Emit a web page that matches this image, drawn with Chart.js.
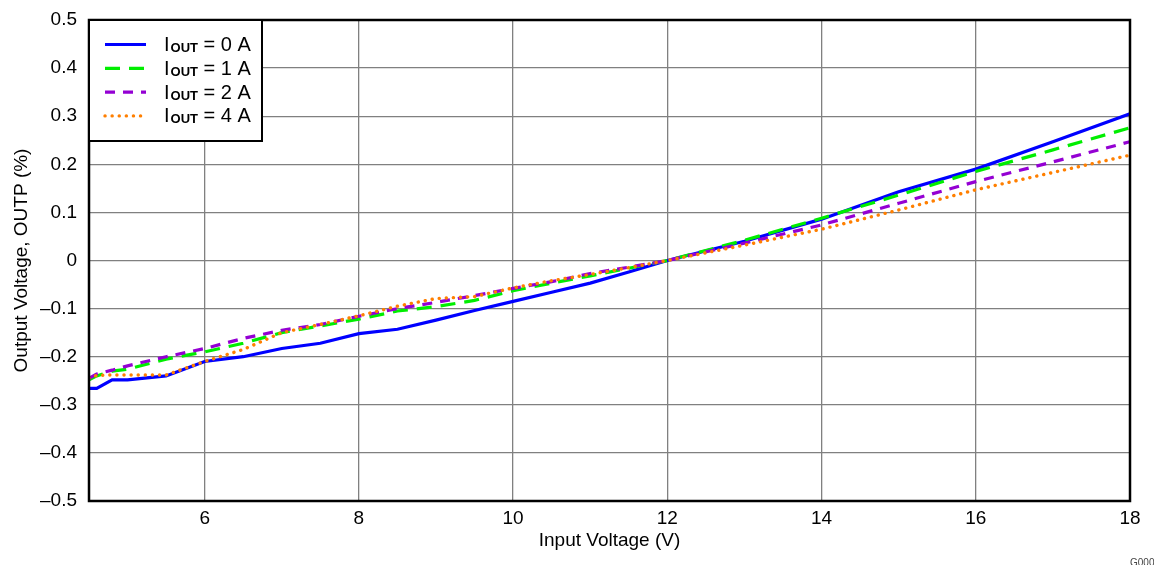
<!DOCTYPE html>
<html>
<head>
<meta charset="utf-8">
<script src="https://cdn.jsdelivr.net/npm/chart.js@4.4.1/dist/chart.umd.min.js"></script>
<style>
  html, body { margin: 0; padding: 0; background: #fff; overflow: hidden; }
  canvas { display: block; }
</style>
</head>
<body>
<canvas id="chart" width="1154" height="565"></canvas>
<script>
// Input voltage (V) sample points, shared by all curves
const inputVoltage = [4.5, 4.6, 4.8, 5, 5.5, 6, 6.5, 7, 7.5, 8, 8.5, 9, 9.5, 10, 10.5, 11, 11.5, 12, 13, 14, 15, 16, 17, 18];

// Output voltage deviation (%) per load current
const iout0A = [-0.266, -0.266, -0.248, -0.248, -0.240, -0.210, -0.200, -0.183, -0.172, -0.152, -0.143, -0.124, -0.104, -0.085, -0.066, -0.047, -0.024, 0, 0.040, 0.086, 0.143, 0.190, 0.247, 0.305];
const iout1A = [-0.248, -0.240, -0.230, -0.226, -0.205, -0.190, -0.172, -0.150, -0.136, -0.122, -0.105, -0.096, -0.083, -0.063, -0.047, -0.032, -0.016, 0, 0.042, 0.088, 0.136, 0.185, 0.230, 0.276];
const iout2A = [-0.245, -0.236, -0.228, -0.219, -0.200, -0.183, -0.162, -0.145, -0.133, -0.116, -0.100, -0.087, -0.073, -0.058, -0.044, -0.027, -0.014, 0, 0.036, 0.074, 0.119, 0.164, 0.205, 0.247];
const iout4A = [-0.245, -0.239, -0.238, -0.238, -0.238, -0.210, -0.185, -0.150, -0.133, -0.115, -0.095, -0.079, -0.075, -0.057, -0.042, -0.029, -0.015, 0, 0.032, 0.065, 0.105, 0.147, 0.183, 0.219];

const seriesCurrents = ["0 A", "1 A", "2 A", "4 A"];

const xTicks = [6, 8, 10, 12, 14, 16, 18];
const yTicks = [-0.5, -0.4, -0.3, -0.2, -0.1, 0, 0.1, 0.2, 0.3, 0.4, 0.5];
const yTickLabels = ["\u20130.5", "\u20130.4", "\u20130.3", "\u20130.2", "\u20130.1", "0", "0.1", "0.2", "0.3", "0.4", "0.5"];

const FONT = "'Liberation Sans', Arial, sans-serif";
const font = { family: FONT, size: 19 };

function points(ys) {
    return inputVoltage.map((x, i) => ({ x: x, y: ys[i] }));
}

const styles = [
    { color: "#0000ff", dash: [], cap: "butt", width: 3.2, order: 4 },
    { color: "#00ee00", dash: [15, 9], cap: "butt", width: 3.2, order: 3 },
    { color: "#9400d3", dash: [10, 8], cap: "butt", width: 3.2, order: 2 },
    { color: "#ff7f00", dash: [0.1, 7], cap: "round", width: 3.4, order: 1 }
];
const seriesValues = [iout0A, iout1A, iout2A, iout4A];

// frame round the plot, the boxed legend, the figure id
const framePlugin = {
    id: "frame",
    afterDraw(chart) {
        const c = chart.ctx;
        const a = chart.chartArea;
        c.save();
        c.strokeStyle = "#000";
        c.lineWidth = 2.5;
        c.strokeRect(a.left, a.top, a.right - a.left, a.bottom - a.top);

        // legend
        const lx = a.left, ly = a.top, lw = 173, lh = 121;
        c.fillStyle = "#fff";
        c.fillRect(lx, ly, lw, lh);
        c.lineWidth = 2;
        c.strokeRect(lx, ly, lw, lh);
        chart.data.datasets.forEach((ds, i) => {
            const base = ly + 31 + i * 23.8;
            const yl = base - 6.5;
            c.beginPath();
            c.strokeStyle = ds.borderColor;
            c.lineWidth = ds.borderWidth;
            c.lineCap = ds.borderCapStyle;
            c.setLineDash(ds.borderDash);
            c.moveTo(105, yl);
            c.lineTo(146, yl);
            c.stroke();
            c.setLineDash([]);
            c.lineCap = "butt";

            c.fillStyle = "#000";
            c.textBaseline = "alphabetic";
            c.textAlign = "left";
            let x = 164;
            c.font = "20px " + FONT;
            c.fillText("I", x, base);
            x += c.measureText("I").width + 1;
            c.font = "bold 13px " + FONT;
            c.fillText("OUT", x, base + 1);
            x += c.measureText("OUT").width;
            c.font = "20px " + FONT;
            c.fillText(" = " + seriesCurrents[i], x, base);
        });

        c.font = "10px " + FONT;
        c.fillStyle = "#444";
        c.fillText("G000", 1130, 566);
        c.restore();
    }
};

const ctx = document.getElementById("chart").getContext("2d");
new Chart(ctx, {
    type: "line",
    data: {
        datasets: seriesValues.map((ys, i) => ({
            label: "IOUT = " + seriesCurrents[i],
            data: points(ys),
            borderColor: styles[i].color,
            backgroundColor: styles[i].color,
            borderWidth: styles[i].width,
            borderDash: styles[i].dash,
            borderCapStyle: styles[i].cap,
            order: styles[i].order,
            pointRadius: 0,
            tension: 0,
            fill: false
        }))
    },
    options: {
        responsive: false,
        animation: false,
        devicePixelRatio: 1,
        layout: { padding: { top: 20, right: 24, left: 0, bottom: 0 } },
        plugins: { legend: { display: false }, tooltip: { enabled: false } },
        scales: {
            x: {
                type: "linear",
                min: 4.5,
                max: 18,
                afterBuildTicks: s => { s.ticks = xTicks.map(v => ({ value: v })); },
                afterFit: s => { s.height = 64; s.paddingLeft = 0; s.paddingRight = 0; },
                grid: { color: "#808080", lineWidth: 1.3, drawTicks: false },
                border: { display: false },
                ticks: { font: font, color: "#000", padding: 6, maxRotation: 0, callback: v => String(v) },
                title: { display: true, text: "Input Voltage (V)", font: font, color: "#000", padding: { top: 0, bottom: 13 } }
            },
            y: {
                type: "linear",
                min: -0.5,
                max: 0.5,
                afterBuildTicks: s => { s.ticks = yTicks.map(v => ({ value: v })); },
                afterFit: s => { s.width = 89; s.paddingTop = 0; s.paddingBottom = 0; },
                grid: { color: "#808080", lineWidth: 1.3, drawTicks: false },
                border: { display: false },
                ticks: { font: font, color: "#000", padding: 12, callback: (v, i) => yTickLabels[i] },
                title: { display: true, text: "Output Voltage, OUTP (%)", font: font, color: "#000", padding: { top: 10, bottom: 0 } }
            }
        }
    },
    plugins: [framePlugin]
});
</script>
</body>
</html>
